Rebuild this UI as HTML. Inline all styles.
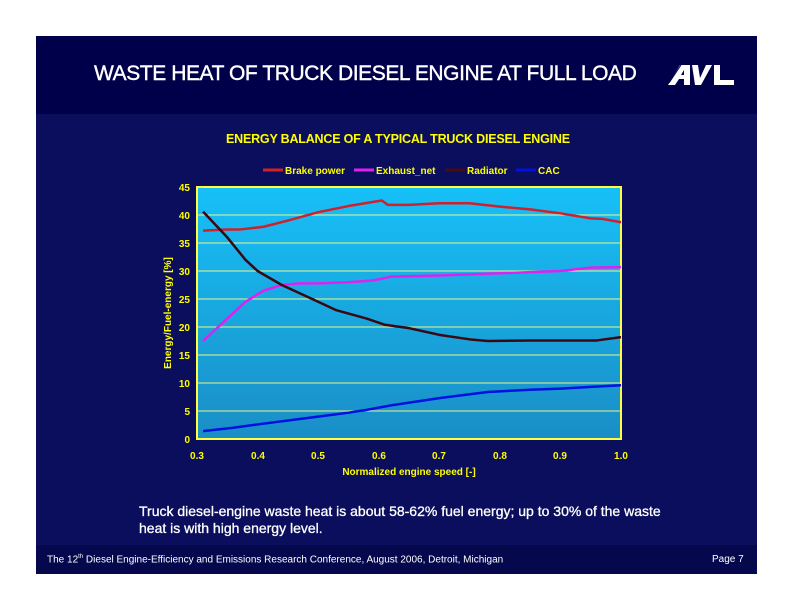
<!DOCTYPE html>
<html><head><meta charset="utf-8"><style>
html,body{margin:0;padding:0;background:#fff;}
body{width:792px;height:612px;position:relative;overflow:hidden;font-family:"Liberation Sans",Arial,sans-serif;}
.slide{position:absolute;left:36px;top:36px;width:721px;height:538px;background:#0b0e5c;}
.hdr{position:absolute;left:0;top:0;width:721px;height:78px;background:#00004a;}
.ftr{position:absolute;left:0;bottom:0;width:721px;height:29px;background:#06084e;}
.t{position:absolute;white-space:nowrap;}
</style></head><body>
<div class="slide"><div class="hdr"></div><div class="ftr"></div></div>
<div class="t" style="left:94px;top:62px;color:#fff;font-size:21px;letter-spacing:-0.42px;-webkit-text-stroke:0.4px #fff;">WASTE HEAT OF TRUCK DIESEL ENGINE AT FULL LOAD</div>
<svg style="position:absolute;left:668px;top:64px" width="70" height="22" viewBox="0 0 70 22">
<polygon points="0,21 12,1 22,1 22,21 16,21 16,15 11,15 7,21" fill="#fff"/>
<polygon points="13,11 16,6 16,11" fill="#00004a"/>
<polygon points="24,1 30,1 32,14 38,1 44,1 33,21 27,21" fill="#fff"/>
<rect x="46" y="1" width="6" height="20" fill="#fff"/><rect x="46" y="16" width="20" height="5" fill="#fff"/>
<line x1="1" y1="19" x2="13" y2="1" stroke="#00004a" stroke-width="1"/>
</svg>
<div class="t" style="left:226px;top:132px;color:#ffff00;font-size:12.5px;font-weight:bold;letter-spacing:-0.2px;">ENERGY BALANCE OF A TYPICAL TRUCK DIESEL ENGINE</div>
<svg style="position:absolute;left:0;top:0" width="792" height="612">
<defs><linearGradient id="g" x1="0" y1="0" x2="0" y2="1"><stop offset="0" stop-color="#17c0f8"/><stop offset="1" stop-color="#1a8ec6"/></linearGradient></defs>
<g font-family="Liberation Sans,Arial,sans-serif" font-weight="bold" font-size="10" fill="#ffff00">
<line x1="263" y1="170" x2="283" y2="170" stroke="#d0202a" stroke-width="3"/><text x="285" y="174">Brake power</text>
<line x1="354" y1="170" x2="374" y2="170" stroke="#e020f0" stroke-width="3"/><text x="376" y="174">Exhaust_net</text>
<line x1="445" y1="170" x2="465" y2="170" stroke="#4a0a10" stroke-width="3"/><text x="467" y="174">Radiator</text>
<line x1="516" y1="170" x2="536" y2="170" stroke="#0010e0" stroke-width="3"/><text x="538" y="174">CAC</text>
</g>
<rect x="197" y="187" width="424" height="252" fill="url(#g)" stroke="#ffff40" stroke-width="2"/>
<g stroke="#ffff80" stroke-width="1" opacity="0.9">
<line x1="197" x2="621" y1="215" y2="215"/><line x1="197" x2="621" y1="243" y2="243"/><line x1="197" x2="621" y1="271" y2="271"/><line x1="197" x2="621" y1="299" y2="299"/><line x1="197" x2="621" y1="327" y2="327"/><line x1="197" x2="621" y1="355" y2="355"/><line x1="197" x2="621" y1="383" y2="383"/><line x1="197" x2="621" y1="411" y2="411"/>
</g>
<g font-family="Liberation Sans,Arial,sans-serif" font-weight="bold" font-size="10" fill="#ffff00" text-anchor="end">
<text x="190" y="191">45</text><text x="190" y="219">40</text><text x="190" y="247">35</text><text x="190" y="275">30</text><text x="190" y="303">25</text><text x="190" y="331">20</text><text x="190" y="359">15</text><text x="190" y="387">10</text><text x="190" y="415">5</text><text x="190" y="443">0</text>
</g>
<g font-family="Liberation Sans,Arial,sans-serif" font-weight="bold" font-size="10" fill="#ffff00" text-anchor="middle">
<text x="197" y="459">0.3</text><text x="258" y="459">0.4</text><text x="318" y="459">0.5</text><text x="379" y="459">0.6</text><text x="439" y="459">0.7</text><text x="500" y="459">0.8</text><text x="560" y="459">0.9</text><text x="621" y="459">1.0</text>
<text x="409" y="475">Normalized engine speed [-]</text>
<text transform="translate(171,313) rotate(-90)">Energy/Fuel-energy [%]</text>
</g>
<g transform="translate(15.3,439) scale(605.7,-5.6)" fill="none" stroke-width="2.5" stroke-linejoin="round">
<polyline vector-effect="non-scaling-stroke" stroke="#d0202a" points="0.31,37.2 0.35,37.4 0.37,37.4 0.41,37.9 0.45,39 0.5,40.5 0.55,41.6 0.6,42.5 0.605,42.6 0.615,41.8 0.65,41.8 0.7,42.1 0.75,42.1 0.8,41.5 0.85,41 0.9,40.3 0.95,39.4 0.97,39.3 1.0,38.7"/>
<polyline vector-effect="non-scaling-stroke" stroke="#e020f0" points="0.31,17.5 0.35,21.5 0.38,24.5 0.41,26.5 0.44,27.5 0.47,27.8 0.5,27.8 0.55,28 0.59,28.3 0.6,28.5 0.62,29 0.7,29.2 0.8,29.6 0.9,30 0.95,30.6 1.0,30.7"/>
<polyline vector-effect="non-scaling-stroke" stroke="#3a0812" points="0.31,40.6 0.35,36 0.38,32 0.4,30 0.44,27.5 0.5,24.5 0.53,23 0.58,21.5 0.61,20.4 0.65,19.8 0.7,18.6 0.75,17.8 0.78,17.5 0.85,17.6 0.96,17.6 1.0,18.2"/>
<polyline vector-effect="non-scaling-stroke" stroke="#0010e0" points="0.31,1.4 0.36,2 0.4,2.6 0.45,3.3 0.5,4 0.55,4.7 0.58,5.2 0.62,6 0.7,7.3 0.78,8.4 0.85,8.8 0.9,9 0.95,9.3 1.0,9.6"/>
</g>
</svg>
<div class="t" style="left:139px;top:503px;color:#fff;font-size:14px;line-height:17px;-webkit-text-stroke:0.3px #fff;">Truck diesel-engine waste heat is about 58-62% fuel energy; up to 30% of the waste<br>heat is with high energy level.</div>
<div class="t" style="left:47px;top:554px;color:#fff;font-size:10px;">The 12<sup style="font-size:6px">th</sup> Diesel Engine-Efficiency and Emissions Research Conference, August 2006, Detroit, Michigan</div>
<div class="t" style="left:712px;top:554px;color:#fff;font-size:10px;">Page 7</div>
</body></html>
